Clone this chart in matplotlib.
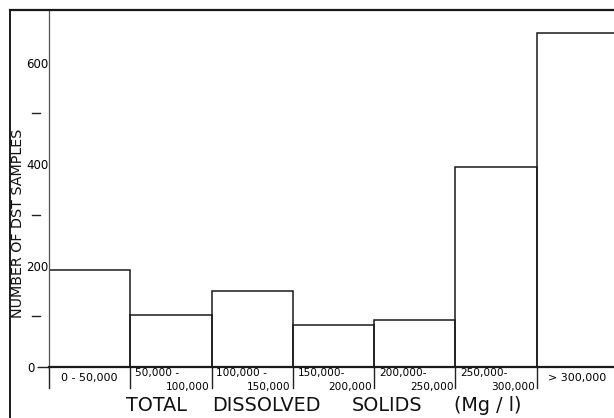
import matplotlib
matplotlib.use("Agg")
import matplotlib.pyplot as plt
from matplotlib.lines import Line2D

# Counts of DST samples per total-dissolved-solids class (mg/l)
class_top = ["0 - 50,000", "50,000 -", "100,000 -", "150,000-", "200,000-", "250,000-", "> 300,000"]
class_bottom = ["", "100,000", "150,000", "200,000", "250,000", "300,000", ""]
sample_counts = [191, 102, 149, 83, 93, 395, 658]

y_major = [0]
y_labeled = [200, 400, 600]
y_dash = [100, 300, 500]

title_words = ["TOTAL", "DISSOLVED", "SOLIDS", "(Mg / l)"]
title_x_px = [156, 266, 387, 488]

W, H = 614, 418
fig = plt.figure(figsize=(W / 100, H / 100), dpi=100)
fig.patch.set_facecolor("white")

ax_left, ax_right, ax_bottom, ax_top = 49, 614, 367, 10
ax = fig.add_axes([ax_left / W, (H - ax_bottom) / H,
                   (ax_right - ax_left) / W, (ax_bottom - ax_top) / H])

n = len(sample_counts)
xs = list(range(n))
ax.bar(xs, sample_counts, width=1.0, align="edge", fill=False,
       edgecolor="#1a1a1a", linewidth=1.1)

ax.set_xlim(0, 6.95)
ax.set_ylim(0, 704)

for side in ("top", "right"):
    ax.spines[side].set_visible(False)
ax.spines["left"].set_linewidth(0.9)
ax.spines["left"].set_color("#555555")
ax.spines["bottom"].set_linewidth(1.6)
ax.spines["bottom"].set_color("#1a1a1a")

ax.set_xticks([])
ax.set_yticks(y_major)
ax.set_yticklabels(["0"])
ax.set_yticks(y_labeled, minor=True)
ax.set_yticklabels([str(v) for v in y_labeled], minor=True)
ax.tick_params(axis="y", which="major", length=9, width=1.0, pad=1.5,
               labelsize=8.5, color="#222222")
ax.tick_params(axis="y", which="minor", length=0, pad=0.5, labelsize=8.5)

ytrans = ax.get_yaxis_transform()
for v in y_dash:
    ax.plot([-0.030, -0.016], [v, v], transform=ytrans, color="#222222",
            linewidth=1.0, clip_on=False)

# class dividers below the baseline and class labels
xtrans = ax.get_xaxis_transform()
for b in range(n):
    ax.plot([b, b], [0, -0.059], transform=xtrans, color="#222222",
            linewidth=1.0, clip_on=False)
for i in range(n):
    if class_bottom[i]:
        ax.text(i + 0.06, -0.017, class_top[i], transform=xtrans,
                ha="left", va="center", fontsize=7.6)
        ax.text(i + 0.975, -0.056, class_bottom[i], transform=xtrans,
                ha="right", va="center", fontsize=7.6)
    else:
        ax.text(i + 0.5, -0.031, class_top[i], transform=xtrans,
                ha="center", va="center", fontsize=8)

for word, xp in zip(title_words, title_x_px):
    fig.text(xp / W, 1 - 405.5 / H, word, ha="center", va="center",
             fontsize=13.8, color="#111111")
fig.text(18.5 / W, 1 - 223 / H, "NUMBER OF DST SAMPLES", rotation=90,
         ha="center", va="center", fontsize=10.3, color="#111111")

# drawing frame
fig.add_artist(Line2D([10 / W, 1.0], [1 - 9.5 / H, 1 - 9.5 / H],
                      transform=fig.transFigure, color="#1a1a1a", linewidth=1.6))
fig.add_artist(Line2D([10 / W, 10 / W], [1 - 9.5 / H, 0.0],
                      transform=fig.transFigure, color="#1a1a1a", linewidth=1.4))

fig.savefig("out.png", dpi=100, facecolor="white")
